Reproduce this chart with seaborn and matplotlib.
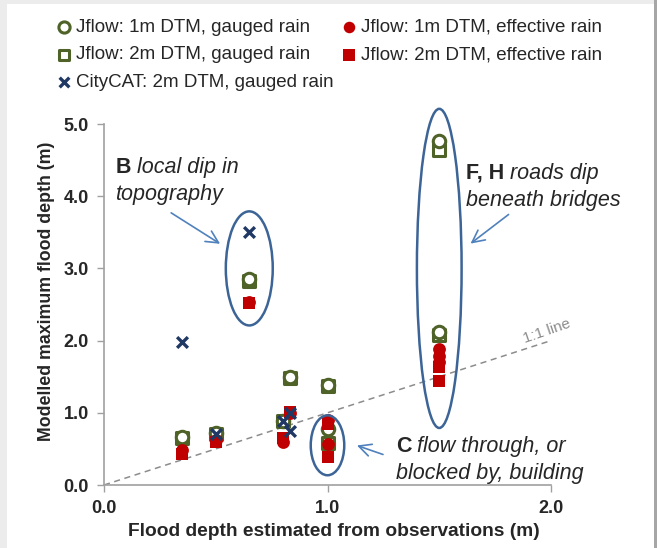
import numpy as np
import pandas as pd
import matplotlib.pyplot as plt
import seaborn as sns
from matplotlib.patches import Ellipse, Rectangle

# observed depth (m) for each site, one list per model series
obs_1m_gauged = [0.35, 0.50, 0.65, 0.80, 0.83, 1.00, 1.00, 1.50, 1.50]
mod_1m_gauged = [0.67, 0.72, 2.85, 0.88, 1.50, 1.39, 0.78, 4.76, 2.12]

obs_2m_gauged = [0.35, 0.50, 0.65, 0.80, 0.83, 1.00, 1.00, 1.50, 1.50]
mod_2m_gauged = [0.65, 0.70, 2.83, 0.88, 1.48, 1.37, 0.58, 4.64, 2.08]

obs_1m_eff = [0.35, 0.50, 0.65, 0.80, 0.83, 1.00, 1.00, 1.50, 1.50, 1.50]
mod_1m_eff = [0.48, 0.62, 2.53, 0.60, 1.00, 0.90, 0.57, 1.88, 1.78, 1.70]

obs_2m_eff = [0.35, 0.50, 0.65, 0.80, 0.83, 1.00, 1.00, 1.50, 1.50]
mod_2m_eff = [0.43, 0.60, 2.52, 0.65, 1.01, 0.85, 0.39, 1.63, 1.44]

obs_citycat = [0.35, 0.50, 0.65, 0.80, 0.83, 0.83]
mod_citycat = [1.98, 0.70, 3.51, 0.88, 1.00, 0.75]

labels = ["Jflow: 1m DTM, gauged rain", "Jflow: 2m DTM, gauged rain",
          "CityCAT: 2m DTM, gauged rain", "Jflow: 1m DTM, effective rain",
          "Jflow: 2m DTM, effective rain"]

green = "#4f6228"
red = "#c00000"
navy = "#1f3864"
ell_col = "#3c6496"
arr_col = "#4f81bd"

sns.set_style("white")
plt.rcParams["font.family"] = ["Liberation Sans", "DejaVu Sans"]

fig = plt.figure(figsize=(6.57, 5.48), dpi=100)
fig.patch.set_facecolor("#ececec")
fig.add_artist(Rectangle((7 / 657, 0), 648 / 657, 544 / 548, transform=fig.transFigure,
                         facecolor="white", edgecolor="none", zorder=0))
fig.add_artist(Rectangle((654 / 657, 0), 3 / 657, 1, transform=fig.transFigure,
                         facecolor="#a6a6a6", edgecolor="none", zorder=0))

ax = fig.add_axes([104 / 657, 63 / 548, 447 / 657, 361 / 548])
ax.set_facecolor("none")

# 1:1 line
ax.plot([0, 2], [0, 2], ls=(0, (4, 3)), color="#8c8c8c", lw=1.1, zorder=1)
ax.text(1.98, 2.13, "1:1 line", color="#8c8c8c", fontsize=11, rotation=19,
        ha="center", va="center", clip_on=False)

sns.scatterplot(x=obs_1m_gauged, y=mod_1m_gauged, ax=ax, marker="o", s=80,
                facecolor="white", edgecolor=green, linewidth=2.2, label=labels[0], zorder=3)
sns.scatterplot(x=obs_2m_gauged, y=mod_2m_gauged, ax=ax, marker="s", s=75,
                facecolor="white", edgecolor=green, linewidth=2.2, label=labels[1], zorder=2)
sns.scatterplot(x=obs_citycat, y=mod_citycat, ax=ax, marker="x", s=60,
                color=navy, linewidth=2.4, label=labels[2], zorder=5)
sns.scatterplot(x=obs_1m_eff, y=mod_1m_eff, ax=ax, marker="o", s=85,
                color=red, edgecolor=red, linewidth=0, label=labels[3], zorder=4)
sns.scatterplot(x=obs_2m_eff, y=mod_2m_eff, ax=ax, marker="s", s=85,
                color=red, edgecolor=red, linewidth=0, label=labels[4], zorder=4)

ax.set_xlim(0, 2.0)
ax.set_ylim(0, 5.0)
ax.set_xticks([0, 1.0, 2.0])
ax.set_yticks(np.arange(0, 5.01, 1.0))
ax.set_xticklabels([f"{v:.1f}" for v in [0, 1.0, 2.0]], fontweight="bold", fontsize=13)
ax.set_yticklabels([f"{v:.1f}" for v in np.arange(0, 5.01, 1.0)], fontweight="bold", fontsize=13)
ax.tick_params(axis="both", direction="out", length=5, width=1, color="#a0a0a0",
               bottom=True, left=True, pad=6)
for side in ["top", "right"]:
    ax.spines[side].set_visible(False)
for side in ["left", "bottom"]:
    ax.spines[side].set_color("#a0a0a0")
    ax.spines[side].set_linewidth(1.2)

ax.set_xlabel("Flood depth estimated from observations (m)", fontweight="bold", fontsize=13.8)
ax.set_ylabel("Modelled maximum flood depth (m)", fontweight="bold", fontsize=12.8)
ax.xaxis.set_label_coords(0.515, -0.105)
ax.yaxis.set_label_coords(-0.11, 0.537)

# ellipses around groups
for cx, cy, w, h in [(0.65, 3.0, 0.21, 1.58), (1.50, 3.0, 0.20, 4.42), (1.0, 0.55, 0.15, 0.83)]:
    ax.add_patch(Ellipse((cx, cy), w, h, fill=False, edgecolor=ell_col, lw=1.8,
                         clip_on=False, zorder=6))

# annotations
ax.annotate("", xy=(0.53, 3.32), xytext=(0.29, 3.79),
            arrowprops=dict(arrowstyle="->", color=arr_col, lw=1.2, mutation_scale=22))
ax.annotate("", xy=(1.63, 3.32), xytext=(1.82, 3.77),
            arrowprops=dict(arrowstyle="->", color=arr_col, lw=1.2, mutation_scale=22),
            annotation_clip=False)
ax.annotate("", xy=(1.12, 0.56), xytext=(1.26, 0.41),
            arrowprops=dict(arrowstyle="->", color=arr_col, lw=1.2, mutation_scale=22),
            annotation_clip=False)


def note(x, y, bold, rest, line2):
    fs = 15.5
    b = ax.text(x, y, bold, fontweight="bold", fontsize=fs, clip_on=False, va="baseline")
    ax.annotate(" " + rest, xy=(1, 0), xycoords=b, va="bottom", ha="left",
                fontstyle="italic", fontsize=fs, annotation_clip=False)
    ax.text(x, y - 0.375, line2, fontstyle="italic", fontsize=fs, clip_on=False, va="baseline")


note(0.05, 4.32, "B", "local dip in", "topography")
note(1.62, 4.24, "F, H", "roads dip", "beneath bridges")
note(1.305, 0.46, "C", "flow through, or", "blocked by, building")

handles, _ = ax.get_legend_handles_labels()
ax.legend(handles=handles, labels=labels, ncol=2, loc="upper left",
          bbox_to_anchor=(38 / 657, 546 / 548), bbox_transform=fig.transFigure,
          frameon=False, fontsize=13.5, handletextpad=0.15, handlelength=1.0,
          columnspacing=0.3, labelspacing=0.55, markerscale=0.9)

fig.savefig("out.png", dpi=100, facecolor=fig.get_facecolor())
